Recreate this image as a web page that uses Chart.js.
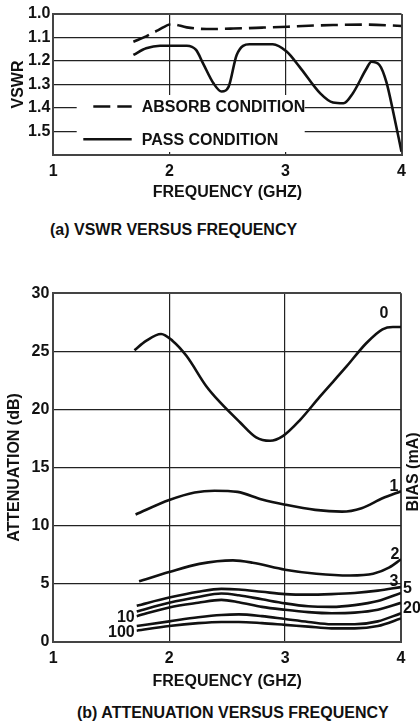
<!DOCTYPE html>
<html>
<head>
<meta charset="utf-8">
<title>VSWR and attenuation versus frequency</title>
<script src="https://cdn.jsdelivr.net/npm/chart.js@4.4.1/dist/chart.umd.min.js"></script>
<style>
  body { margin: 0; background: #fff; width: 420px; height: 722px; position: relative; overflow: hidden;
         font-family: "Liberation Sans", Arial, sans-serif; color: #111; }
  canvas { position: absolute; left: 0; }
  #vswrChart { top: 0; }
  #attenChart { top: 270px; }
  .caption { position: absolute; font-weight: bold; font-size: 16px; line-height: 18px; white-space: nowrap; }
  #capA { left: 50px; top: 221px; }
  #capB { left: 77px; top: 704px; }
  #biasTitle { position: absolute; left: 363px; top: 463px; width: 100px; text-align: center;
               font-weight: bold; font-size: 16px; line-height: 18px; transform: rotate(-90deg); }
</style>
</head>
<body>
<canvas id="vswrChart" width="420" height="205"></canvas>
<div class="caption" id="capA">(a) VSWR VERSUS FREQUENCY</div>
<canvas id="attenChart" width="420" height="422"></canvas>
<div id="biasTitle">BIAS (mA)</div>
<div class="caption" id="capB">(b) ATTENUATION VERSUS FREQUENCY</div>

<script>
// ---- (a) VSWR data ----
const absorbFreq = [1.69, 1.80, 1.90, 2.02, 2.15, 2.32, 2.55, 2.80, 3.02, 3.20, 3.41, 3.70, 4.00];
const absorbVswr = [1.118, 1.095, 1.070, 1.043, 1.057, 1.064, 1.062, 1.058, 1.054, 1.050, 1.047, 1.045, 1.051];

const passFreq = [1.69, 1.80, 1.92, 2.15, 2.23, 2.29, 2.38, 2.45, 2.51, 2.58, 2.69, 2.89, 3.01, 3.12, 3.30, 3.41, 3.50, 3.58, 3.70, 3.74, 3.81, 3.87, 3.93, 4.00];
const passVswr = [1.174, 1.146, 1.135, 1.135, 1.153, 1.210, 1.295, 1.330, 1.310, 1.174, 1.129, 1.129, 1.160, 1.224, 1.338, 1.377, 1.380, 1.338, 1.231, 1.203, 1.217, 1.290, 1.420, 1.586];

const vswrTicks = [1.0, 1.1, 1.2, 1.3, 1.4, 1.5];

// ---- (b) attenuation data, one curve per bias current ----
const freq0 = [1.70, 1.80, 1.93, 2.03, 2.15, 2.32, 2.44, 2.61, 2.75, 2.87, 2.98, 3.13, 3.30, 3.53, 3.70, 3.84, 3.93, 4.00];
const atten0 = [25.1, 25.9, 26.5, 25.9, 24.6, 22.0, 20.6, 18.9, 17.6, 17.3, 17.7, 19.1, 21.1, 23.7, 25.7, 26.9, 27.1, 27.1];

const freq1 = [1.71, 2.00, 2.22, 2.39, 2.59, 2.80, 3.00, 3.26, 3.49, 3.66, 3.84, 4.00];
const atten1 = [10.95, 12.2, 12.85, 13.0, 12.9, 12.25, 11.8, 11.35, 11.2, 11.5, 12.35, 12.95];

const freq2 = [1.74, 2.00, 2.26, 2.55, 2.72, 3.00, 3.27, 3.56, 3.76, 3.90, 4.00];
const atten2 = [5.2, 6.0, 6.7, 7.0, 6.8, 6.2, 5.85, 5.7, 5.85, 6.4, 7.1];

const freqLow = [1.72, 2.00, 2.25, 2.45, 2.60, 2.80, 3.00, 3.20, 3.40, 3.60, 3.80, 4.00];
const atten3 = [3.1, 3.8, 4.3, 4.55, 4.5, 4.3, 4.1, 4.05, 4.1, 4.2, 4.4, 4.7];
const atten5 = [2.6, 3.35, 3.85, 4.15, 4.0, 3.65, 3.3, 3.05, 3.0, 3.15, 3.5, 4.2];
const atten10 = [2.2, 2.95, 3.35, 3.6, 3.4, 3.0, 2.75, 2.55, 2.45, 2.5, 2.75, 3.35];
const atten20 = [1.35, 1.75, 2.1, 2.3, 2.35, 2.2, 1.95, 1.7, 1.5, 1.5, 1.75, 2.45];
const atten100 = [0.95, 1.35, 1.6, 1.7, 1.7, 1.6, 1.45, 1.3, 1.15, 1.15, 1.35, 2.0];

const freqTicks = [1, 2, 3, 4];

function pts(xs, ys) {
  return xs.map((x, i) => ({ x: x, y: ys[i] }));
}

Chart.defaults.font.family = '"Liberation Sans", Arial, sans-serif';
Chart.defaults.font.size = 16;
Chart.defaults.font.weight = 'bold';
Chart.defaults.color = '#111';

const INK = '#111';

// edge grid lines act as the plot frame
function gridWidth(c) {
  const n = c.scale.ticks.length;
  return (c.index === 0 || c.index === n - 1) ? 2 : 1.2;
}
function gridColor(c) {
  const n = c.scale.ticks.length;
  return (c.index === 0 || c.index === n - 1) ? '#444' : '#222';
}
const gridOpts = { drawTicks: false, color: gridColor, lineWidth: gridWidth };
const borderOpts = { color: '#444', width: 2 };

// legend drawn inside the plot on a white patch, below the curves
const insideLegend = {
  id: 'insideLegend',
  beforeDatasetsDraw(chart) {
    const { ctx, chartArea: a } = chart;
    ctx.save();
    ctx.fillStyle = '#fff';
    ctx.fillRect(a.left + 23.4, a.top + 81, 228, 57);
    ctx.font = 'bold 16px "Liberation Sans", Arial, sans-serif';
    ctx.textBaseline = 'middle';
    ctx.textAlign = 'left';
    const rows = [a.top + 92.5, a.top + 125.2];
    const sampleStart = [a.left + 40, a.left + 30];
    chart.data.datasets.forEach((ds, i) => {
      const y = rows[i];
      ctx.strokeStyle = ds.borderColor;
      ctx.lineWidth = ds.borderWidth;
      ctx.setLineDash(ds.borderDash || []);
      ctx.beginPath();
      ctx.moveTo(sampleStart[i], y);
      ctx.lineTo(a.left + 78.4, y);
      ctx.stroke();
      ctx.setLineDash([]);
      ctx.fillStyle = INK;
      ctx.fillText(ds.label, a.left + 88.4, y + 1);
    });
    ctx.restore();
  }
};

new Chart(document.getElementById('vswrChart'), {
  type: 'line',
  data: {
    datasets: [
      { label: 'ABSORB CONDITION', data: pts(absorbFreq, absorbVswr), borderColor: INK, borderWidth: 2.6, borderDash: [17, 7] },
      { label: 'PASS CONDITION', data: pts(passFreq, passVswr), borderColor: INK, borderWidth: 2.6 }
    ]
  },
  options: {
    responsive: false,
    animation: false,
    layout: { padding: { top: 14, right: 18.5, left: 0, bottom: 0 } },
    elements: {
      point: { radius: 0 },
      line: { cubicInterpolationMode: 'monotone', fill: false }
    },
    plugins: { legend: { display: false }, tooltip: { enabled: false } },
    scales: {
      x: {
        type: 'linear', min: 1, max: 4,
        afterBuildTicks: s => { s.ticks = freqTicks.map(v => ({ value: v })); },
        ticks: { padding: 7, callback: v => String(v) },
        grid: gridOpts, border: borderOpts,
        title: { display: true, text: 'FREQUENCY (GHZ)', padding: { top: 0, bottom: 2.4 } },
        afterFit: s => { s.height = 50; }
      },
      y: {
        type: 'linear', min: 1.0, max: 1.6, reverse: true,
        afterBuildTicks: s => { s.ticks = vswrTicks.concat([1.6]).map(v => ({ value: v })); },
        ticks: { padding: 3, callback: v => (vswrTicks.includes(v) ? v.toFixed(1) : '') },
        grid: gridOpts, border: borderOpts,
        title: { display: true, text: 'VSWR', padding: { top: 9.4, bottom: 0 } },
        afterFit: s => { s.width = 53.3; }
      }
    }
  },
  plugins: [insideLegend]
});

// curve labels placed next to the first or last point of each curve
const curveLabels = {
  id: 'curveLabels',
  afterDatasetsDraw(chart, args, opts) {
    const ctx = chart.ctx;
    ctx.save();
    ctx.font = 'bold 16px "Liberation Sans", Arial, sans-serif';
    ctx.fillStyle = INK;
    ctx.textBaseline = 'middle';
    chart.data.datasets.forEach((ds, i) => {
      const place = opts.places[ds.label];
      if (!place) return;
      const el = chart.getDatasetMeta(i).data;
      const p = place.at === 'start' ? el[0] : el[el.length - 1];
      ctx.textAlign = place.align;
      ctx.fillText(ds.label, p.x + place.dx, p.y + place.dy);
    });
    ctx.restore();
  }
};

const labelPlaces = {
  '0':   { at: 'end', align: 'center', dx: -17, dy: -13 },
  '1':   { at: 'end', align: 'center', dx: -7, dy: -5 },
  '2':   { at: 'end', align: 'center', dx: -6, dy: -5 },
  '3':   { at: 'end', align: 'center', dx: -7, dy: -6 },
  '5':   { at: 'end', align: 'left', dx: 2, dy: -4 },
  '20':  { at: 'end', align: 'left', dx: 2, dy: -5 },
  '10':  { at: 'start', align: 'right', dx: -2, dy: 1.5 },
  '100': { at: 'start', align: 'right', dx: -2, dy: 2.3 }
};

function biasSet(label, xs, ys) {
  return { label: label, data: pts(xs, ys), borderColor: INK, borderWidth: 2.6 };
}

new Chart(document.getElementById('attenChart'), {
  type: 'line',
  data: {
    datasets: [
      biasSet('0', freq0, atten0),
      biasSet('1', freq1, atten1),
      biasSet('2', freq2, atten2),
      biasSet('3', freqLow, atten3),
      biasSet('5', freqLow, atten5),
      biasSet('10', freqLow, atten10),
      biasSet('20', freqLow, atten20),
      biasSet('100', freqLow, atten100)
    ]
  },
  options: {
    responsive: false,
    animation: false,
    layout: { padding: { top: 23.3, right: 19, left: 0, bottom: 0 } },
    elements: {
      point: { radius: 0 },
      line: { cubicInterpolationMode: 'monotone', fill: false }
    },
    plugins: {
      legend: { display: false },
      tooltip: { enabled: false },
      curveLabels: { places: labelPlaces }
    },
    scales: {
      x: {
        type: 'linear', min: 1, max: 4,
        afterBuildTicks: s => { s.ticks = freqTicks.map(v => ({ value: v })); },
        ticks: { padding: 7, callback: v => String(v) },
        grid: gridOpts, border: borderOpts,
        title: { display: true, text: 'FREQUENCY (GHZ)', padding: { top: 0, bottom: 0.7 } },
        afterFit: s => { s.height = 50.3; }
      },
      y: {
        type: 'linear', min: 0, max: 30,
        ticks: { stepSize: 5, padding: 4 },
        grid: gridOpts, border: borderOpts,
        title: { display: true, text: 'ATTENUATION (dB)', padding: { top: 5.4, bottom: 0 } },
        afterFit: s => { s.width = 53.3; }
      }
    }
  },
  plugins: [curveLabels]
});
</script>
</body>
</html>
